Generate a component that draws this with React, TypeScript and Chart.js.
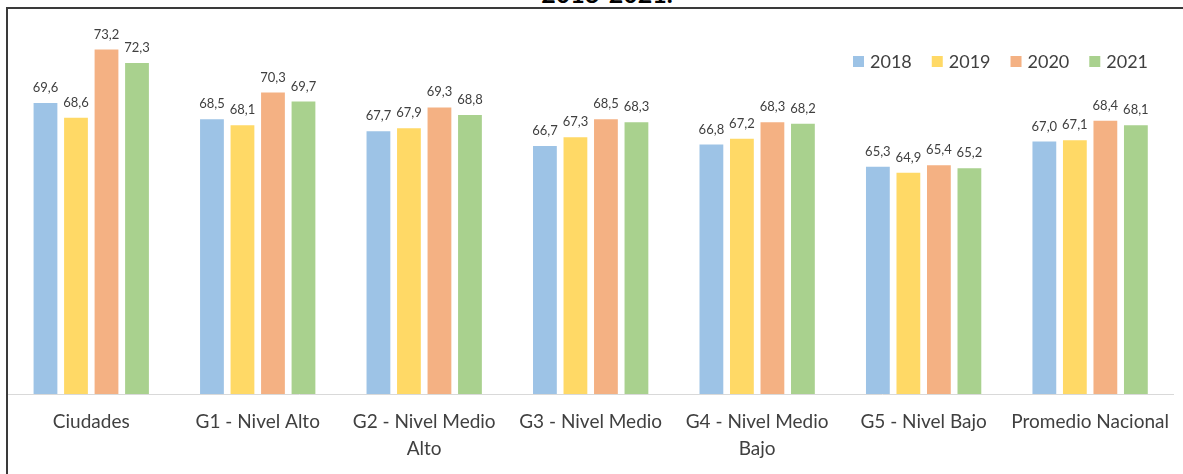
import React, { useEffect, useRef } from "react";
import { Chart, registerables } from "chart.js";

Chart.register(...registerables);

const categories: string[][] = [
  ["Ciudades"],
  ["G1 - Nivel Alto"],
  ["G2 - Nivel Medio", "Alto"],
  ["G3 - Nivel Medio"],
  ["G4 - Nivel Medio", "Bajo"],
  ["G5 - Nivel Bajo"],
  ["Promedio Nacional"],
];
const years = ["2018", "2019", "2020", "2021"];
const values2018 = [69.6, 68.5, 67.7, 66.7, 66.8, 65.3, 67.0];
const values2019 = [68.6, 68.1, 67.9, 67.3, 67.2, 64.9, 67.1];
const values2020 = [73.2, 70.3, 69.3, 68.5, 68.3, 65.4, 68.4];
const values2021 = [72.3, 69.7, 68.8, 68.3, 68.2, 65.2, 68.1];
const colors = ["#9DC3E6", "#FFD966", "#F4B183", "#A9D18E"];
const titleText = "2018-2021.";

const FONT = "Lato, 'Open Sans', sans-serif";
const TEXT = "#404040";

const dataLabelsPlugin = {
  id: "dataLabels",
  afterDatasetsDraw(chart: any) {
    const ctx = chart.ctx;
    ctx.save();
    ctx.font = `13px ${FONT}`;
    ctx.fillStyle = TEXT;
    ctx.textAlign = "center";
    ctx.textBaseline = "alphabetic";
    chart.data.datasets.forEach((ds: any, i: number) => {
      const meta = chart.getDatasetMeta(i);
      meta.data.forEach((bar: any, j: number) => {
        const v = ds.data[j] as number;
        ctx.fillText(v.toFixed(1).replace(".", ","), bar.x, bar.y - 11);
      });
    });
    ctx.restore();
  },
};

const legendPlugin = {
  id: "customLegend",
  afterDraw(chart: any) {
    const ctx = chart.ctx;
    ctx.save();
    ctx.font = `18px ${FONT}`;
    ctx.textBaseline = "middle";
    ctx.textAlign = "left";
    let x = 853;
    const yc = 61.5;
    chart.data.datasets.forEach((ds: any) => {
      ctx.fillStyle = ds.backgroundColor;
      ctx.fillRect(x, yc - 5.5, 11, 11);
      ctx.fillStyle = TEXT;
      ctx.fillText(ds.label, x + 17, yc + 1);
      x += 17 + ctx.measureText(ds.label).width + 20;
    });
    ctx.restore();
  },
};

export default function App() {
  const ref = useRef<HTMLCanvasElement | null>(null);

  useEffect(() => {
    document.body.style.margin = "0";
    if (!ref.current) return;
    const series = [values2018, values2019, values2020, values2021];
    const chart = new Chart(ref.current, {
      type: "bar",
      data: {
        labels: categories,
        datasets: years.map((y, i) => ({
          label: y,
          data: series[i],
          backgroundColor: colors[i],
          borderWidth: 0,
          categoryPercentage: 0.733,
          barPercentage: 0.78,
        })),
      },
      options: {
        animation: false,
        responsive: false,
        maintainAspectRatio: false,
        layout: { padding: { top: 8, left: 8, right: 1, bottom: 0 } },
        plugins: {
          legend: { display: false },
          tooltip: { enabled: false },
          title: { display: false },
        },
        scales: {
          x: {
            afterFit(scale: any) {
              scale.height = 80;
            },
            grid: { display: false, drawTicks: false },
            border: { display: true, color: "#D9D9D9", width: 1 },
            ticks: {
              color: TEXT,
              font: { family: FONT, size: 19, lineHeight: 1.42 },
              padding: 14,
              maxRotation: 0,
              minRotation: 0,
              autoSkip: false,
            },
          },
          y: {
            display: false,
            min: 50,
            max: 76,
          },
        },
      },
      plugins: [dataLabelsPlugin, legendPlugin],
    });
    return () => chart.destroy();
  }, []);

  return (
    <div
      style={{
        position: "relative",
        width: 1183,
        height: 474,
        overflow: "hidden",
        background: "#ffffff",
      }}
    >
      <div
        style={{
          position: "absolute",
          left: 0,
          width: 1214,
          top: -22,
          height: 22,
          lineHeight: "22px",
          textAlign: "center",
          font: `bold 25px ${FONT}`,
          color: "#000",
          whiteSpace: "nowrap",
        }}
      >
        {titleText}
      </div>
      <canvas
        ref={ref}
        width={1183}
        height={474}
        style={{ position: "absolute", left: 0, top: 0, width: 1183, height: 474 }}
      />
      <div
        style={{
          position: "absolute",
          left: 6,
          top: 7,
          width: 1300,
          height: 600,
          borderLeft: "2px solid #3a3a3a",
          borderTop: "2px solid #3a3a3a",
          pointerEvents: "none",
        }}
      />
    </div>
  );
}
